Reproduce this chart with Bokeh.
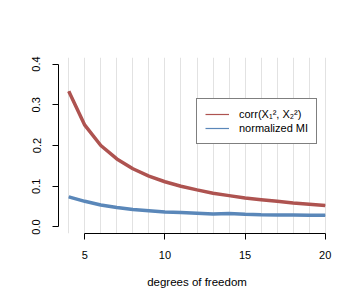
from bokeh.plotting import figure
from bokeh.models import FixedTicker, Legend, LegendItem, Range1d
from bokeh.embed import file_html
from bokeh.resources import INLINE

# data
df = [4, 5, 6, 7, 8, 9, 10, 11, 12, 13, 14, 15, 16, 17, 18, 19, 20]
corr_sq = [0.333, 0.250, 0.200, 0.167, 0.143, 0.125, 0.111, 0.100, 0.091,
           0.083, 0.077, 0.071, 0.067, 0.063, 0.059, 0.056, 0.053]
norm_mi = [0.074, 0.063, 0.054, 0.048, 0.043, 0.040, 0.037, 0.0355, 0.034,
           0.032, 0.033, 0.031, 0.030, 0.0295, 0.0295, 0.029, 0.0285]
x_ticks = [5, 10, 15, 20]
y_ticks = [0.0, 0.1, 0.2, 0.3, 0.4]
y_tick_labels = {0.0: "0.0", 0.1: "0.1", 0.2: "0.2", 0.3: "0.3", 0.4: "0.4"}
labels = ["corr(X\u2081\u00b2, X\u2082\u00b2)", "normalized MI"]
x_label = "degrees of freedom"

RED = "#AE5350"
BLUE = "#5A87B9"
FONT = "Liberation Sans"

p = figure(width=356, height=296, output_backend="svg", toolbar_location=None,
           x_range=Range1d(3.36, 20.64), y_range=Range1d(-0.016, 0.416),
           min_border_left=58, min_border_right=21, min_border_top=57,
           min_border_bottom=63)
p.outline_line_color = None
p.background_fill_color = "white"
p.border_fill_color = "white"

# vertical grid at each df
p.xgrid.ticker = FixedTicker(ticks=df)
p.xgrid.grid_line_color = "#E2E2E2"
p.xgrid.grid_line_width = 1
p.ygrid.grid_line_color = None

# axes
xa = p.xaxis[0]
xa.ticker = FixedTicker(ticks=x_ticks)
xa.bounds = (5, 20)
xa.axis_label = x_label
ya = p.yaxis[0]
ya.ticker = FixedTicker(ticks=y_ticks)
ya.bounds = (0, 0.4)
ya.major_label_overrides = y_tick_labels
ya.major_label_orientation = "vertical"
for ax in (xa, ya):
    ax.minor_tick_line_color = None
    ax.major_tick_out = 6
    ax.major_tick_in = 0
    ax.axis_line_color = "black"
    ax.major_tick_line_color = "black"
    ax.major_label_text_font = FONT
    ax.major_label_text_font_size = "11px"
    ax.major_label_text_color = "black"
    ax.axis_label_text_font = FONT
    ax.axis_label_text_font_size = "11.5px"
    ax.axis_label_text_font_style = "normal"
    ax.axis_label_text_color = "black"
xa.major_label_standoff = 11
xa.axis_label_standoff = 14
ya.major_label_standoff = 12

# thin lines (under the thick ones) used as legend glyphs
lr = p.line(df, corr_sq, line_color=RED, line_width=1.2)
lb = p.line(df, norm_mi, line_color=BLUE, line_width=1.2)

p.line(df, corr_sq, line_color=RED, line_width=3.5)
p.line(df, norm_mi, line_color=BLUE, line_width=3.5)

legend = Legend(items=[LegendItem(label=labels[0], renderers=[lr]),
                       LegendItem(label=labels[1], renderers=[lb])],
                location=(138, 89), margin=0, padding=8, spacing=0,
                glyph_width=24, glyph_height=14, label_height=14,
                label_standoff=10, label_text_font=FONT,
                label_text_font_size="11px", label_text_color="black",
                border_line_color="black", border_line_width=1,
                background_fill_color="white", background_fill_alpha=1.0)
p.add_layout(legend)

open("out.html", "w").write(file_html(p, INLINE))
